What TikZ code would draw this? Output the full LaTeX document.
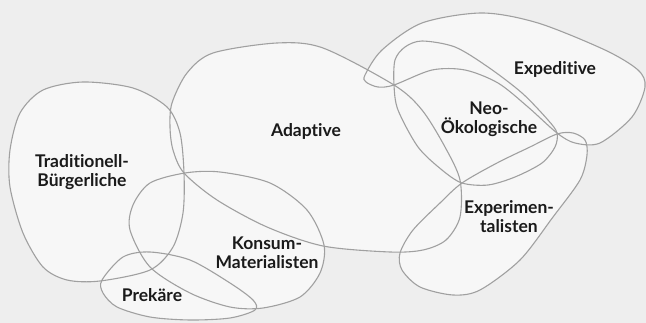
\documentclass[tikz,border=0pt]{standalone}
\usepackage{fontspec}
\setmainfont{Lato}[Ligatures={NoCommon}]
\definecolor{bgc}{HTML}{EEEEEE}
\definecolor{blobfill}{HTML}{F7F7F7}
\definecolor{blobline}{HTML}{A0A0A0}
\definecolor{txt}{HTML}{1A1A1A}
\begin{document}
\begin{tikzpicture}[x=1pt,y=-1pt,
  blob/.style={draw=blobline,line width=1.1pt},
  blobbg/.style={fill=blobfill},
  lbl/.style={text=txt,font=\fontsize{17.5}{19}\selectfont\bfseries,align=center,inner sep=0pt}]
\useasboundingbox (0,0) rectangle (646,323);
\fill[bgc] (0,0) rectangle (646,323);
\def\trad{(83,82) (133,88) (167,107) (180,133) (184,173) (183,213) (173,247) (150,270) (100,281) (67,280) (43,267) (23,233) (10,187) (10,150) (20,113) (43,90)}
\def\adap{(277,43) (323,48) (394,85) (422,110) (445,147) (460,180) (460,217) (446,240) (423,250) (390,252) (323,246) (267,227) (217,200) (184,173) (173,150) (170,127) (172,103) (187,73) (213,53)}
\def\kons{(185,173) (220,172) (270,183) (307,210) (324,245) (320,273) (300,297) (263,308) (230,307) (190,293) (150,267) (130,230) (133,205) (150,183)}
\def\prek{(102,280) (123,257) (150,252) (190,260) (230,283) (253,300) (255,310) (230,318) (190,320) (150,317) (117,307) (103,293)}
\def\expd{(365,75) (382,50) (422,23) (482,13) (538,23) (605,50) (638,70) (645,87) (632,117) (600,143) (575,143) (557,133) (528,107) (498,83) (465,70) (432,70) (394,85) (378,87) (366,82)}
\def\neok{(394,85) (395,60) (405,47) (422,41) (455,47) (488,67) (522,93) (548,120) (557,133) (555,147) (542,163) (515,177) (488,185) (462,183) (442,170) (418,147) (398,110)}
\def\expm{(462,183) (497,163) (530,147) (557,134) (573,133) (585,140) (587,155) (580,180) (553,217) (520,260) (480,290) (453,295) (420,287) (402,270) (400,253) (413,230) (440,203)}
\foreach \s in {\trad,\adap,\kons,\prek,\expd,\neok,\expm}{
  \path[blobbg] plot[smooth cycle] coordinates {\s};
}
\foreach \s in {\trad,\adap,\kons,\prek,\expd,\neok,\expm}{
  \draw[blob] plot[smooth cycle] coordinates {\s};
}
\node[lbl] (tb) at (82,172) {Traditionell-\\Bürgerliche};
\node[lbl] (ad) at (306,131) {Adaptive};
\node[lbl] (km) at (267,253) {Konsum-\\Materialisten};
\node[lbl] (pk) at (152,295) {Prekäre};
\node[lbl] (ex) at (555,69) {Expeditive};
\node[lbl] (no) at (489,119) {Neo-\\Ökologische};
\node[lbl] (em) at (509,217) {Experimen-\\talisten};
\end{tikzpicture}
\end{document}
